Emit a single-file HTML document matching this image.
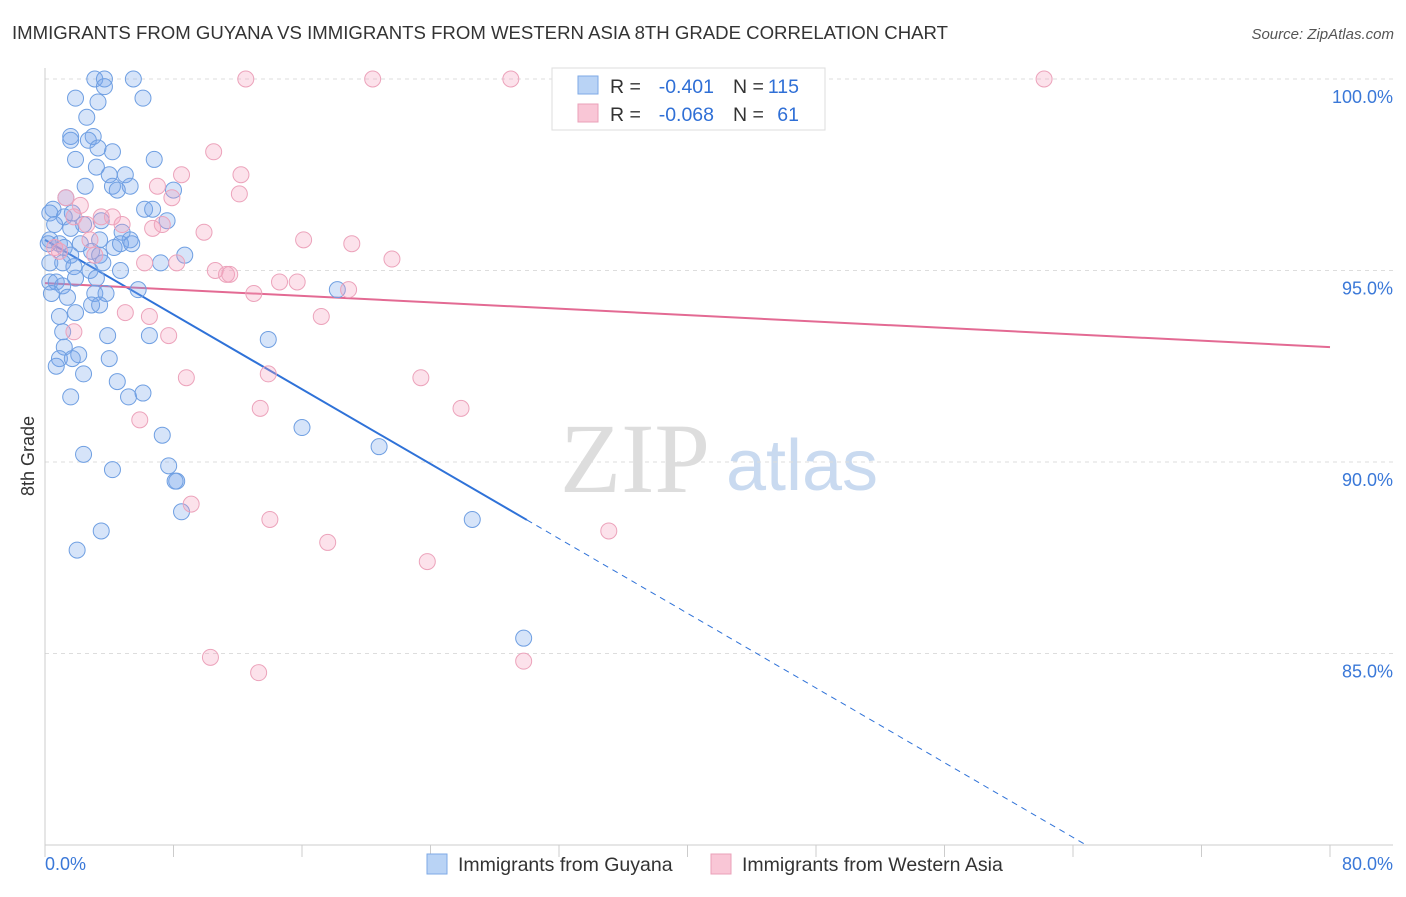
<!DOCTYPE html>
<html><head><meta charset="utf-8"><style>
body{margin:0;background:#fff;font-family:"Liberation Sans",sans-serif;}
svg text{font-family:"Liberation Sans",sans-serif;}
</style></head><body>
<svg id="chart" width="1406" height="892">
<text x="12" y="39" font-size="18.6" fill="#333">IMMIGRANTS FROM GUYANA VS IMMIGRANTS FROM WESTERN ASIA 8TH GRADE CORRELATION CHART</text>
<text x="1394" y="39" font-size="15" fill="#555" text-anchor="end" font-style="italic">Source: ZipAtlas.com</text>
<text x="34" y="456" font-size="18" fill="#333" text-anchor="middle" transform="rotate(-90 34 456)">8th Grade</text>
<g>
<text x="635" y="492" font-size="100" fill="#ddd" text-anchor="middle" font-family="Liberation Serif" style="font-family:'Liberation Serif',serif">ZIP</text>
<text x="802" y="490" font-size="72" fill="#c9daf0" text-anchor="middle">atlas</text>
</g>
<g id="grid"></g><g id="axes"></g><g id="lines"></g><g id="pts"></g>
<g>
<rect x="552" y="68" width="273" height="62" fill="#fff" stroke="#ddd"/>
<rect x="578" y="76" width="20" height="18" fill="#b9d3f5" stroke="#7ea9e6"/>
<rect x="578" y="104" width="20" height="18" fill="#f9c6d6" stroke="#eaa0b8"/>
<text x="610" y="93" font-size="19.5" fill="#333">R =</text>
<text x="714" y="93" font-size="19.5" fill="#2f6fd6" text-anchor="end">-0.401</text>
<text x="733" y="93" font-size="19.5" fill="#333">N =</text>
<text x="799" y="93" font-size="19.5" fill="#2f6fd6" text-anchor="end">115</text>
<text x="610" y="121" font-size="19.5" fill="#333">R =</text>
<text x="714" y="121" font-size="19.5" fill="#2f6fd6" text-anchor="end">-0.068</text>
<text x="733" y="121" font-size="19.5" fill="#333">N =</text>
<text x="799" y="121" font-size="19.5" fill="#2f6fd6" text-anchor="end">61</text>
</g>
<g>
<rect x="427" y="854" width="20" height="20" fill="#b9d3f5" stroke="#7ea9e6"/>
<text x="458" y="871" font-size="19.5" fill="#333">Immigrants from Guyana</text>
<rect x="711" y="854" width="20" height="20" fill="#f9c6d6" stroke="#eaa0b8"/>
<text x="742" y="871" font-size="19.5" fill="#333">Immigrants from Western Asia</text>
</g>
</svg>
<script>
const yTicks=[100,95,90,85];
const yTickLabels=["100.0%","95.0%","90.0%","85.0%"];
const xTicks=[0,8,16,24,32,40,48,56,64,72,80];
const blueX=[3.1,3.7,5.5,3.7,1.9,6.1,3.3,2.6,1.6,3.0,1.6,2.7,4.2,3.3,6.8,1.9,3.2,4.0,5.0,2.5,4.2,5.3,4.5,8.0,1.3,6.2,0.5,6.7,1.7,0.3,1.2,3.5,7.6,0.6,2.4,1.6,4.8,0.3,3.4,5.3,0.9,0.2,2.2,4.3,4.7,5.4,1.2,2.9,3.4,1.6,8.7,7.2,0.3,1.1,1.8,3.6,2.8,4.7,1.9,3.2,0.3,0.7,1.1,0.4,1.4,3.1,3.8,5.8,18.2,2.9,3.4,1.9,0.9,1.1,3.9,6.5,13.9,1.2,2.1,0.9,1.7,4.0,0.7,2.4,4.5,6.1,5.2,1.6,7.3,16.0,20.8,2.4,7.7,4.2,8.2,8.1,8.5,26.6,3.5,2.0,29.8];
const blueY=[100,100,100,99.8,99.5,99.5,99.4,99.0,98.5,98.5,98.4,98.4,98.1,98.2,97.9,97.9,97.7,97.5,97.5,97.2,97.2,97.2,97.1,97.1,96.9,96.6,96.6,96.6,96.5,96.5,96.4,96.3,96.3,96.2,96.2,96.1,96.0,95.8,95.8,95.8,95.7,95.7,95.7,95.6,95.7,95.7,95.6,95.5,95.4,95.4,95.4,95.2,95.2,95.2,95.1,95.2,95.0,95.0,94.8,94.8,94.7,94.7,94.6,94.4,94.3,94.4,94.4,94.5,94.5,94.1,94.1,93.9,93.8,93.4,93.3,93.3,93.2,93.0,92.8,92.7,92.7,92.7,92.5,92.3,92.1,91.8,91.7,91.7,90.7,90.9,90.4,90.2,89.9,89.8,89.5,89.5,88.7,88.5,88.2,87.7,85.4];
const pinkX=[12.5,20.4,29.0,44.0,62.2,10.5,8.5,12.2,7.0,12.1,7.9,1.3,2.2,1.8,3.5,4.2,2.6,4.8,6.7,7.3,9.9,16.1,0.6,0.9,3.1,6.2,8.2,19.1,21.6,10.6,11.3,11.5,14.6,15.7,13.0,18.9,17.2,5.0,6.5,1.8,7.7,8.8,13.9,23.4,13.4,25.9,5.9,9.1,14.0,17.6,23.8,35.1,10.3,13.3,29.8,2.8];
const pinkY=[100,100,100,100,100,98.1,97.5,97.5,97.2,97.0,96.9,96.9,96.7,96.4,96.4,96.4,96.2,96.2,96.1,96.2,96.0,95.8,95.6,95.5,95.4,95.2,95.2,95.7,95.3,95.0,94.9,94.9,94.7,94.7,94.4,94.5,93.8,93.9,93.8,93.4,93.3,92.2,92.3,92.2,91.4,91.4,91.1,88.9,88.5,87.9,87.4,88.2,84.9,84.5,84.8,95.8];
const blueTrend=[95.8,76.3]; // y at x=0 and x=80
const pinkTrend=[94.67,93.0];
const blueSolidEnd=30.0;

const X0=45,X1=1330,Y100=79,PXPER=38.3;
const sx=v=>X0+(X1-X0)*v/80;
const sy=v=>Y100+(100-v)*PXPER;
const NS="http://www.w3.org/2000/svg";
function mk(tag,attrs,parent){const e=document.createElementNS(NS,tag);for(const k in attrs)e.setAttribute(k,attrs[k]);document.getElementById(parent).appendChild(e);return e;}
yTicks.forEach((t,i)=>{
 const g=mk('line',{x1:X0,x2:1393,y1:sy(t),y2:sy(t),stroke:'#ddd','stroke-dasharray':'4,4'},'grid');
 
 
 const l=mk('text',{x:1393,y:sy(t)+24,'font-size':18,fill:'#3a78d8','text-anchor':'end'},'grid');
 l.textContent=yTickLabels[i];
 
 
});
let a=mk('line',{x1:X0,x2:X0,y1:68,y2:845,stroke:'#ccc'},'axes');


a=mk('line',{x1:X0,x2:1393,y1:845,y2:845,stroke:'#ccc'},'axes');


xTicks.forEach(t=>{const e=mk('line',{x1:sx(t),x2:sx(t),y1:845,y2:857,stroke:'#ccc'},'axes');
 
 });
let tl=mk('text',{x:45,y:870,'font-size':18,fill:'#3a78d8'},'axes');tl.textContent='0.0%';


tl=mk('text',{x:1393,y:870,'font-size':18,fill:'#3a78d8','text-anchor':'end'},'axes');tl.textContent='80.0%';


blueX.forEach((x,i)=>{const c=mk('circle',{cx:sx(x),cy:sy(blueY[i]),r:8,fill:'rgba(120,165,235,0.3)',stroke:'#6f9fe2','stroke-width':1},'pts');
 
 });
pinkX.forEach((x,i)=>{const c=mk('circle',{cx:sx(x),cy:sy(pinkY[i]),r:8,fill:'rgba(245,160,190,0.3)',stroke:'#eca3bb','stroke-width':1},'pts');
 
 });
const by=x=>blueTrend[0]+(blueTrend[1]-blueTrend[0])*x/80;
let ln=mk('line',{x1:sx(0),y1:sy(by(0)),x2:sx(blueSolidEnd),y2:sy(by(blueSolidEnd)),stroke:'#2f72d8','stroke-width':2},'lines');


const xEnd=(80-blueTrend[0])/(blueTrend[1]-blueTrend[0])*80;
ln=mk('line',{x1:sx(blueSolidEnd),y1:sy(by(blueSolidEnd)),x2:sx(xEnd),y2:sy(by(xEnd)),stroke:'#2f72d8','stroke-width':1,'stroke-dasharray':'6,5'},'lines');


ln=mk('line',{x1:sx(0),y1:sy(pinkTrend[0]),x2:sx(80),y2:sy(pinkTrend[1]),stroke:'#e36a93','stroke-width':2},'lines');


</script>
</body></html>
